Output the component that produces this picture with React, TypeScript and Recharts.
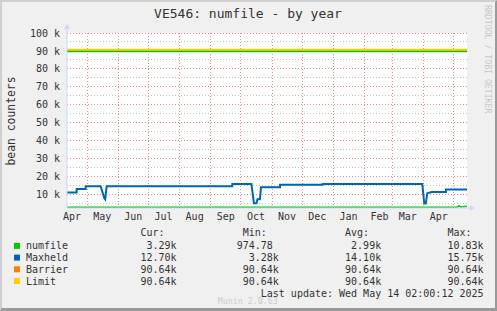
import { LineChart, Line, XAxis, YAxis, ReferenceLine } from 'recharts';

// day 0 = 11 Apr 2024, one unit per day (munin "year" view)
const monthStartDays = [-10, 20, 51, 81, 112, 143, 173, 204, 234, 265, 296, 324, 355, 385];
const monthNames = ['Apr', 'May', 'Jun', 'Jul', 'Aug', 'Sep', 'Oct', 'Nov', 'Dec', 'Jan', 'Feb', 'Mar', 'Apr', 'May'];
const lastDay = 398;

const yMajor = [10000, 20000, 30000, 40000, 50000, 60000, 70000, 80000, 90000, 100000];
const yMinor = [5000, 15000, 25000, 35000, 45000, 55000, 65000, 75000, 85000, 95000];
const yMin = 2350;
const yMax = 100000;

const numfileDays = [0, 388, 390, 392, 398];
const numfileVals = [2800, 2800, 3600, 2900, 3300];

const maxheldDays = [0, 9.6, 9.6, 18.6, 18.6, 33.5, 37, 38, 39.5, 164.5, 164.5, 183.5, 186, 188.5, 189.5, 192, 193, 212, 212, 254.5, 254.5, 353.5, 355.5, 357, 358.5, 363, 377, 377, 398];
const maxheldVals = [11000, 11000, 13000, 13000, 14500, 14500, 8000, 7200, 14500, 14500, 15750, 15750, 5000, 5000, 7200, 7200, 13900, 13900, 15300, 15300, 15750, 15750, 4800, 4800, 10600, 11300, 11300, 12700, 12700];

const barrierVal = 90640;
const limitVal = 90640;
const greenRuleVal = 89700; // thin green rule visible just under the limit line

const legendNames = ['numfile', 'Maxheld', 'Barrier', 'Limit'];
const legendColors = ['#00cc00', '#0066b3', '#ff8000', '#ffcc00'];
const curVals = ['3.29k', '12.70k', '90.64k', '90.64k'];
const minVals = ['974.78', '3.28k', '90.64k', '90.64k'];
const avgVals = ['2.99k', '14.10k', '90.64k', '90.64k'];
const maxVals = ['10.83k', '15.75k', '90.64k', '90.64k'];

const toPts = (days: number[], vals: number[]) => days.map((d, i) => ({ day: d, v: vals[i] }));
const flat = (v: number) => [{ day: 0, v }, { day: lastDay, v }];

const labelDays = monthStartDays.map((d) => d + 15).filter((d) => d >= 0 && d <= lastDay);
const gridDays = monthStartDays.filter((d) => d > 0 && d < lastDay);

const MONO = '"DejaVu Sans Mono", monospace';
const TXT = '#333';
const CW = 6.02; // char width of 10px DejaVu Sans Mono

const YTick = ({ y, payload }: any) => (
  <text x={60} y={y + 3.6} textAnchor="end" fontFamily={MONO} fontSize={10} fill={TXT}>
    {payload.value / 1000} k
  </text>
);

const XTick = ({ x, payload }: any) => {
  const idx = monthStartDays.findIndex((d) => d + 15 === payload.value);
  return (
    <text x={x} y={220} textAnchor="middle" fontFamily={MONO} fontSize={10} fill={TXT}>
      {monthNames[idx]}
    </text>
  );
};

export default function App() {
  const colEnds = [25, 42, 59, 76];
  const colHeads = ['Cur:', 'Min:', 'Avg:', 'Max:'];
  const cols = [curVals, minVals, avgVals, maxVals];
  const rowBase = [249.4, 261.1, 272.8, 284.5];
  const cx = (col: number) => 26 + col * CW;

  return (
    <div style={{ position: 'absolute', left: 0, top: 0, width: 497, height: 311, background: '#f0f0f0', boxSizing: 'border-box', borderTop: '2px solid #d0d0d0', borderLeft: '2px solid #d0d0d0', borderRight: '2px solid #9a9a9a', borderBottom: '3px solid #9a9a9a' }}>
      {/* white canvas behind the plot */}
      <div style={{ position: 'absolute', left: 65, top: 31, width: 400, height: 175, background: '#ffffff' }} />
      <div style={{ position: 'absolute', left: -2, top: -2 }}>
        <LineChart width={497} height={311} margin={{ top: 33, right: 30, bottom: 83, left: 0 }}>
          <XAxis type="number" dataKey="day" domain={[0, lastDay]} ticks={labelDays} interval={0} allowDataOverflow tick={<XTick />} tickLine={false} axisLine={{ stroke: '#cfd6f8' }} height={20} />
          <YAxis type="number" domain={[yMin, yMax]} ticks={yMajor} interval={0} allowDataOverflow tick={<YTick />} tickLine={false} axisLine={{ stroke: '#cfd6f8' }} width={67} />
          {yMinor.map((v) => (
            <ReferenceLine key={'mi' + v} y={v} stroke="#c4c4c4" strokeDasharray="1 2" shapeRendering="crispEdges" />
          ))}
          {yMajor.map((v) => (
            <ReferenceLine key={'ma' + v} y={v} stroke="#f08a8a" strokeDasharray="1 2" shapeRendering="crispEdges" />
          ))}
          {gridDays.map((d) => (
            <ReferenceLine key={'vx' + d} x={d} stroke="#f08a8a" strokeDasharray="1 2" shapeRendering="crispEdges" />
          ))}
          <Line data={toPts(numfileDays, numfileVals)} dataKey="v" stroke="#00cc00" strokeWidth={1.5} dot={false} isAnimationActive={false} />
          <Line data={toPts(maxheldDays, maxheldVals)} dataKey="v" stroke="#0066b3" strokeWidth={2} dot={false} isAnimationActive={false} />
          <Line data={flat(barrierVal)} dataKey="v" stroke="#ff8000" strokeWidth={1} dot={false} isAnimationActive={false} />
          <Line data={flat(limitVal)} dataKey="v" stroke="#ffcc00" strokeWidth={2} dot={false} isAnimationActive={false} />
          <Line data={flat(greenRuleVal)} dataKey="v" stroke="#00cc00" strokeWidth={1.5} dot={false} isAnimationActive={false} />
        </LineChart>
      </div>
      <svg width={497} height={311} style={{ position: 'absolute', left: -2, top: -2 }}>
        {/* axis arrows */}
        <line x1={67} y1={33} x2={67} y2={28} stroke="#cfd6f8" />
        <path d="M64 29 L67 24 L70 29 Z" fill="#cfd6f8" />
        <line x1={467} y1={208} x2={471} y2={208} stroke="#cfd6f8" />
        <path d="M470 205 L475 208 L470 211 Z" fill="#cfd6f8" />

        <text x={248} y={18.3} textAnchor="middle" fontFamily={MONO} fontSize={13} fill={TXT}>VE546: numfile - by year</text>
        <text x={15} y={121} textAnchor="middle" fontFamily={MONO} fontSize={11.4} fill={TXT} transform="rotate(-90 15 121)">bean counters</text>
        <text x={485} y={5} fontFamily={MONO} fontSize={8.2} fill="#c8c8c8" transform="rotate(90 485 5)">RRDTOOL / TOBI OETIKER</text>

        {colHeads.map((h, i) => (
          <text key={h} x={cx(colEnds[i] - 6)} y={236} fontFamily={MONO} fontSize={10} fill={TXT}>{h}</text>
        ))}
        {legendNames.map((n, r) => (
          <g key={n}>
            <rect x={14} y={rowBase[r] - 6.5} width={6} height={6} fill={legendColors[r]} />
            <text x={cx(0)} y={rowBase[r]} fontFamily={MONO} fontSize={10} fill={TXT}>{n}</text>
            {cols.map((c, i) => {
              const s = c[r];
              const len = s.length + (/[0-9]$/.test(s) ? 1 : 0);
              return (
                <text key={i} x={cx(colEnds[i] - len)} y={rowBase[r]} fontFamily={MONO} fontSize={10} fill={TXT}>{s}</text>
              );
            })}
          </g>
        ))}
        <text x={cx(39)} y={297} fontFamily={MONO} fontSize={10} fill={TXT}>Last update: Wed May 14 02:00:12 2025</text>
        <text x={247.7} y={303.5} textAnchor="middle" fontFamily={MONO} fontSize={8.3} fill="#cccccc">Munin 2.0.63</text>
      </svg>
    </div>
  );
}
